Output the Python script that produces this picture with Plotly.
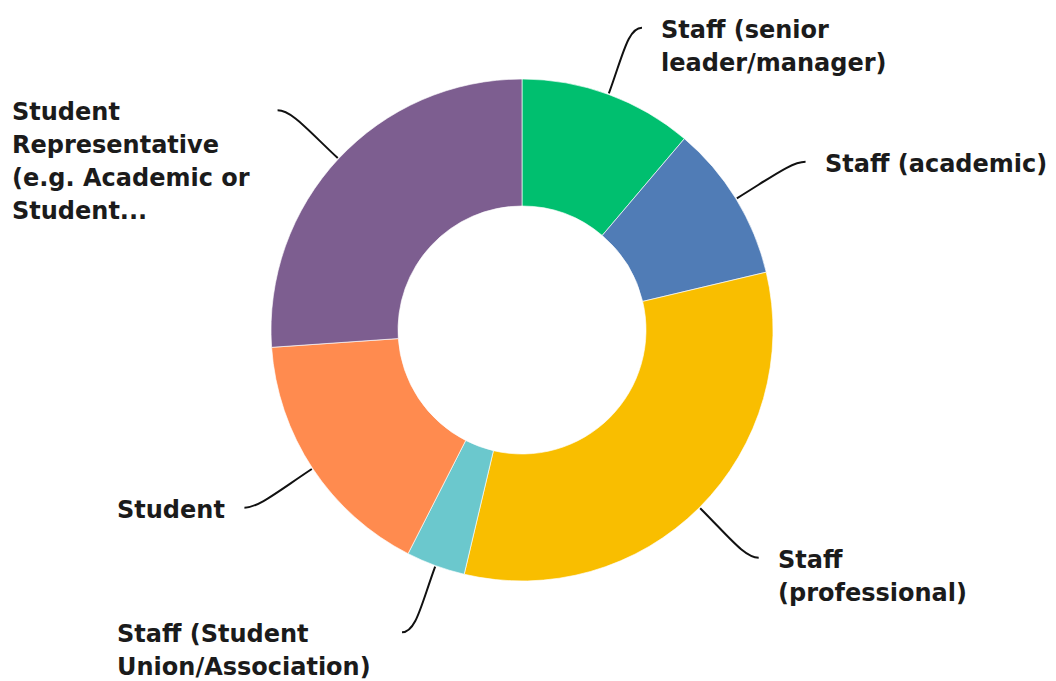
import numpy as np
import plotly.graph_objects as go

# Respondent roles (share of responses, %)
categories = [
    "Staff (senior leader/manager)",
    "Staff (academic)",
    "Staff (professional)",
    "Staff (Student Union/Association)",
    "Student",
    "Student Representative (e.g. Academic or Student...",
]
shares = [11.2, 10.1, 32.4, 3.8, 16.4, 26.1]
colors = ["#00BF6F", "#507CB6", "#F9BE00", "#6BC8CD", "#FF8B4F", "#7D5E90"]

# Wrapped label text drawn beside each slice
label_lines = [
    ["Staff (senior", "leader/manager)"],
    ["Staff (academic)"],
    ["Staff", "(professional)"],
    ["Staff (Student", "Union/Association)"],
    ["Student"],
    ["Student", "Representative", "(e.g. Academic or", "Student..."],
]

# Canvas and donut geometry (pixels)
W, H = 1056, 681
CX, CY, R = 522, 330, 251
HOLE = 0.494
FONT = "DejaVu Sans"
FONT_SIZE = 24
LINE_GAP = 33
TEXT_COLOR = "#1b1b1b"
# left edge of the text block for labels placed on the left side
LEFT_TEXT_X = {3: 115, 4: 115, 5: 10}


def to_paper(px, py):
    return px / W, 1 - py / H


fig = go.Figure(
    go.Pie(
        labels=categories,
        values=shares,
        sort=False,
        direction="clockwise",
        rotation=0,
        hole=HOLE,
        marker=dict(colors=colors, line=dict(color="rgba(255,255,255,0.8)", width=0.8)),
        textinfo="none",
        hoverinfo="label+percent",
        domain=dict(x=[(CX - R) / W, (CX + R) / W], y=[(H - CY - R) / H, (H - CY + R) / H]),
    )
)

total = sum(shares)
cum = np.cumsum([0] + shares[:-1])
shapes = []
annotations = []
for i, v in enumerate(shares):
    mid = np.deg2rad((cum[i] + v / 2) / total * 360)
    ux, uy = np.sin(mid), -np.cos(mid)
    side = 1 if ux >= 0 else -1
    p0 = (CX + (R + 1) * ux, CY + (R + 1) * uy)
    p1 = (CX + (R + 42) * ux, CY + (R + 42) * uy)
    p3 = (CX + (R + 71) * ux + side * 9, CY + (R + 71) * uy)
    p2 = (p3[0] - side * 14, p3[1])
    pts = [to_paper(*p) for p in (p0, p1, p2, p3)]
    path = "M {} {} C {} {}, {} {}, {} {}".format(
        pts[0][0], pts[0][1], pts[1][0], pts[1][1], pts[2][0], pts[2][1], pts[3][0], pts[3][1]
    )
    shapes.append(dict(type="path", path=path, xref="paper", yref="paper",
                       line=dict(color="#111111", width=2)))

    tx = p3[0] + 17 if side > 0 else LEFT_TEXT_X[i]
    for k, line in enumerate(label_lines[i]):
        ax, ay = to_paper(tx, p3[1] + 2 + k * LINE_GAP)
        annotations.append(dict(
            x=ax, y=ay, xref="paper", yref="paper", text=line, showarrow=False,
            xanchor="left", yanchor="middle", align="left",
            font=dict(family=FONT, size=FONT_SIZE, color=TEXT_COLOR, weight="bold"),
        ))

fig.update_layout(
    width=W, height=H,
    margin=dict(l=0, r=0, t=0, b=0),
    paper_bgcolor="white", plot_bgcolor="white",
    showlegend=False,
    shapes=shapes,
    annotations=annotations,
)

fig.write_html("out.html")
